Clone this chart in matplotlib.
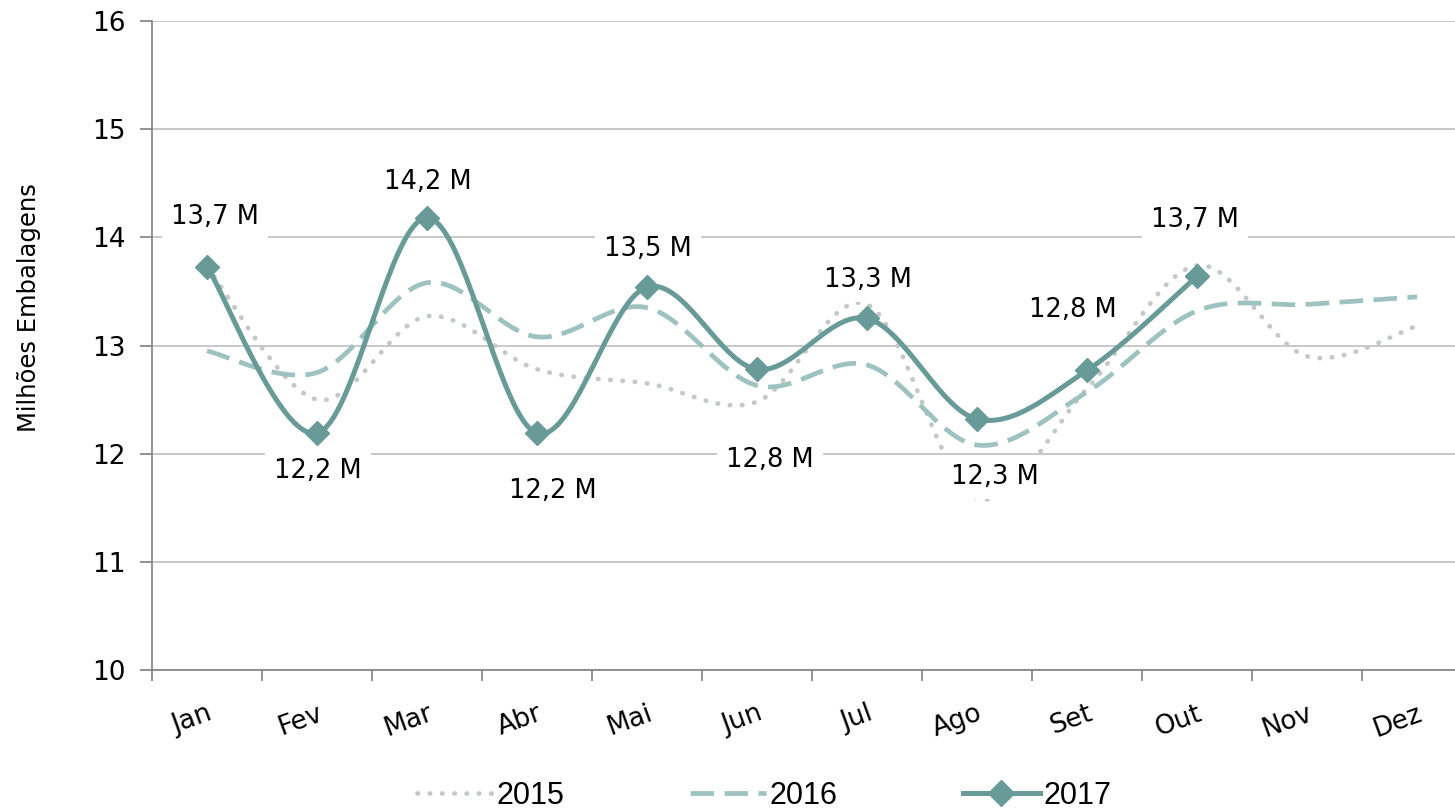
import numpy as np
import matplotlib
matplotlib.use("Agg")
import matplotlib.pyplot as plt
from matplotlib.lines import Line2D

months = ["Jan", "Fev", "Mar", "Abr", "Mai", "Jun", "Jul", "Ago", "Set", "Out", "Nov", "Dez"]
v2015 = [13.73, 12.50, 13.27, 12.78, 12.65, 12.48, 13.38, 11.59, 12.60, 13.74, 12.90, 13.18]
v2016 = [12.95, 12.75, 13.58, 13.08, 13.35, 12.63, 12.82, 12.08, 12.57, 13.32, 13.38, 13.45]
v2017 = [13.73, 12.19, 14.18, 12.19, 13.54, 12.78, 13.25, 12.32, 12.77, 13.64]
labels2017 = ["13,7 M", "12,2 M", "14,2 M", "12,2 M", "13,5 M", "12,8 M", "13,3 M", "12,3 M", "12,8 M", "13,7 M"]
# label offsets in pixels (dx, dy) from the point
label_off = [(8, 50), (1, -38), (1, 36), (16, -58), (1, 38), (13, -91), (1, 38), (18, -58), (-14, 60), (-2, 56)]

c2015 = "#c3c9c7"
c2016 = "#9dc2bf"
c2017 = "#689b98"

plt.rcParams['font.family'] = ['DejaVu Sans']


def smooth(x, y, n=40):
    # Excel style smoothed line (bezier, catmull-rom control points)
    x = np.asarray(x, float)
    y = np.asarray(y, float)
    px = np.concatenate([[x[0]], x, [x[-1]]])
    py = np.concatenate([[y[0]], y, [y[-1]]])
    xs, ys = [], []
    t = np.linspace(0, 1, n)
    for i in range(1, len(px) - 2):
        p0 = np.array([px[i], py[i]])
        p3 = np.array([px[i + 1], py[i + 1]])
        p1 = p0 + (np.array([px[i + 1], py[i + 1]]) - np.array([px[i - 1], py[i - 1]])) / 6
        p2 = p3 - (np.array([px[i + 2], py[i + 2]]) - np.array([px[i], py[i]])) / 6
        b = ((1 - t) ** 3)[:, None] * p0 + (3 * (1 - t) ** 2 * t)[:, None] * p1 \
            + (3 * (1 - t) * t ** 2)[:, None] * p2 + (t ** 3)[:, None] * p3
        xs.extend(b[:, 0])
        ys.extend(b[:, 1])
    return np.array(xs), np.array(ys)


fig = plt.figure(figsize=(14.55, 8.11), dpi=100)
ax = fig.add_axes([152 / 1455, 1 - 670 / 811, 1320 / 1455, 649 / 811])

x12 = np.arange(12)
x10 = np.arange(10)

dots = (0, (0.1, 2.5))
dashes = (0, (5, 2.2))
lw = 3.4

sx, sy = smooth(x12, v2015)
ax.plot(sx, sy, color=c2015, lw=lw, ls=dots, dash_capstyle='round', zorder=3)
sx, sy = smooth(x12, v2016)
ax.plot(sx, sy, color=c2016, lw=lw, ls=dashes, zorder=4)
sx, sy = smooth(x10, v2017)
ax.plot(sx, sy, color=c2017, lw=3.6, solid_capstyle='round', zorder=5)
ax.plot(x10, v2017, ls='none', marker='D', ms=12, color=c2017, zorder=6)

for i, (val, lab) in enumerate(zip(v2017, labels2017)):
    ax.annotate(lab, (i, val), xytext=label_off[i], textcoords='offset pixels',
                ha='center', va='center', fontsize=18.5, color='black', zorder=7,
                bbox=dict(boxstyle='square,pad=0.35', fc='white', ec='none'))

ax.set_xlim(-0.5, 11.5)
ax.set_ylim(10, 16)
ax.set_yticks(range(10, 17))
ax.set_xticks(np.arange(-0.5, 12, 1))
ax.set_xticklabels([])
ax.set_xticks(x12, minor=True)
ax.set_xticklabels(months, minor=True, rotation=20, fontsize=19,
                   ha='right', va='top', rotation_mode='anchor')
ax.tick_params(axis='x', which='minor', length=0, pad=22)
ax.tick_params(axis='x', which='major', length=8, color='#7f7f7f', width=1.2)
ax.tick_params(axis='y', length=9, color='#7f7f7f', width=1.2, labelsize=19, pad=10)
ax.grid(axis='y', color='#bfbfbf', lw=1.2)
ax.set_axisbelow(True)
for s in ['top', 'right']:
    ax.spines[s].set_visible(False)
for s in ['left', 'bottom']:
    ax.spines[s].set_color('#7f7f7f')
    ax.spines[s].set_linewidth(1.2)
ax.set_ylabel("Milhões Embalagens", fontsize=17.5)
ax.yaxis.set_label_coords(-0.084, 0.558)

handles = [
    Line2D([], [], color=c2015, lw=lw, ls=dots, dash_capstyle='round'),
    Line2D([], [], color=c2016, lw=lw, ls=dashes),
    Line2D([], [], color=c2017, lw=3.6, marker='D', ms=13),
]
fig.legend(handles, ["2015", "2016", "2017"], loc='center', bbox_to_anchor=(0.525, 0.019),
           ncol=3, frameon=False, handlelength=2.5, columnspacing=4.1,
           handletextpad=0.12, prop={'family': 'Liberation Sans', 'size': 22})

fig.savefig("out.png", dpi=100)
